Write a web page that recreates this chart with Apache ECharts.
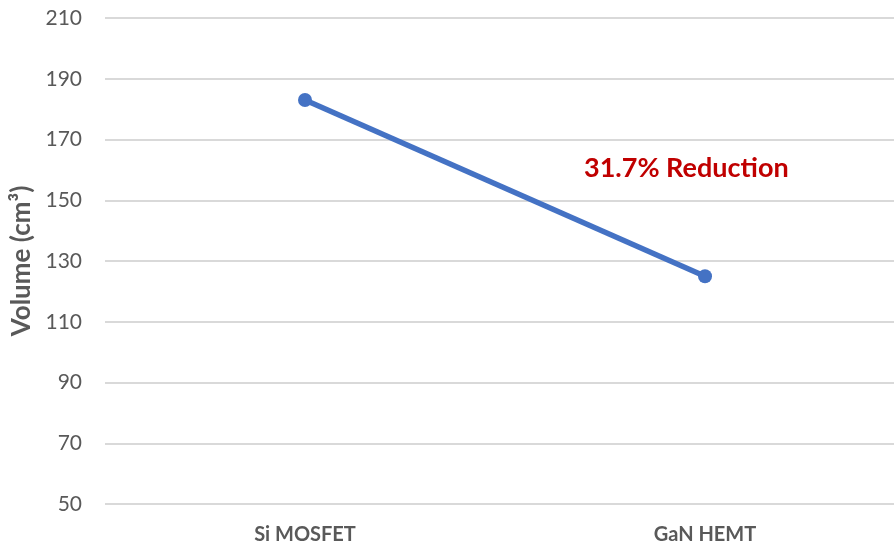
<!DOCTYPE html>
<html>
<head>
<meta charset="utf-8">
<script src="https://cdn.jsdelivr.net/npm/echarts@6/dist/echarts.min.js"></script>
<style>
  html, body { margin: 0; padding: 0; background: #fff; }
  #chart { width: 894px; height: 548px; }
</style>
</head>
<body>
<div id="chart"></div>
<script>
// Device types compared
const categories = ['Si MOSFET', 'GaN HEMT'];
// Converter volume for each device (cm³)
const volumes = [183, 125];
// Value-axis range
const yMin = 50;
const yMax = 210;
const yStep = 20;

const reductionPct = ((volumes[0] - volumes[1]) / volumes[0] * 100).toFixed(1);

const FONT = 'Lato, "Open Sans", sans-serif';
const chart = echarts.init(document.getElementById('chart'));

chart.setOption({
  animation: false,
  grid: { left: 105, top: 18, right: -11, bottom: 44, containLabel: false, outerBoundsMode: 'none' },
  xAxis: {
    type: 'category',
    data: categories,
    boundaryGap: true,
    axisLine: { show: false },
    axisTick: { show: false },
    axisLabel: { color: '#595959', fontSize: 20, fontWeight: 'bold', fontFamily: FONT, margin: 21 }
  },
  yAxis: {
    type: 'value',
    min: yMin,
    max: yMax,
    interval: yStep,
    name: 'Volume (cm³)',
    nameLocation: 'middle',
    nameGap: 68,
    nameTextStyle: { color: '#595959', fontSize: 26, fontWeight: 'bold', fontFamily: FONT },
    axisLine: { show: false },
    axisTick: { show: false },
    axisLabel: { color: '#595959', fontSize: 21, fontFamily: FONT, margin: 23 },
    splitLine: { lineStyle: { color: '#d9d9d9', width: 2 } }
  },
  series: [{
    type: 'line',
    data: volumes,
    symbol: 'circle',
    symbolSize: 14,
    lineStyle: { color: '#4472C4', width: 5.5 },
    itemStyle: { color: '#4472C4' }
  }],
  graphic: [{
    type: 'text',
    left: 584,
    top: 155,
    style: {
      text: reductionPct + '% Reduction',
      fill: '#C00000',
      fontSize: 27,
      fontWeight: 'bold',
      fontFamily: FONT
    }
  }]
});
</script>
</body>
</html>
